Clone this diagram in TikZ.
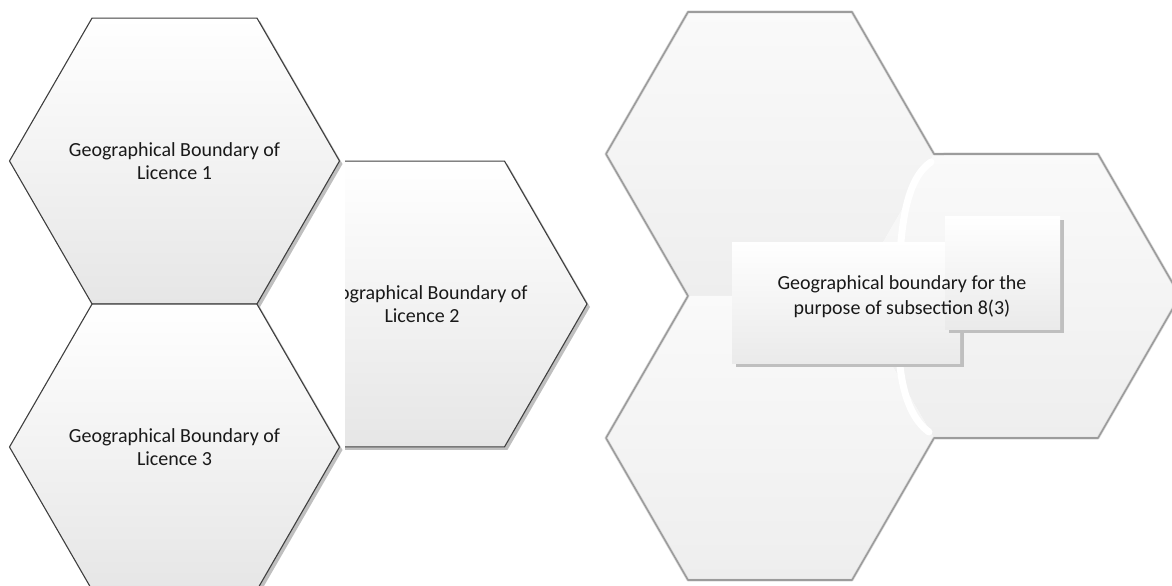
\documentclass[tikz,border=0pt]{standalone}
\usepackage{fontspec}
\setmainfont{Carlito}
\usetikzlibrary{shapes.geometric,shadows}
\definecolor{hexline}{HTML}{3F3F3F}
\definecolor{hexlow}{HTML}{E6E6E6}
\definecolor{zonerim}{HTML}{9C9C9C}
\definecolor{zonelow}{HTML}{EEEEEE}
\definecolor{panellow}{HTML}{EAEAEA}
\tikzset{
  hexcell/.style={regular polygon, regular polygon sides=6,
    minimum size=330pt, inner sep=0pt, outer sep=0pt, draw=hexline, line width=1.1pt,
    top color=white, bottom color=hexlow,
    drop shadow={shadow xshift=3pt, shadow yshift=-3pt, fill=black!25, opacity=1}},
  hexlabel/.style={align=center, text=black!90, font=\fontsize{20}{23}\selectfont},
  zonecell/.style={regular polygon, regular polygon sides=6,
    minimum size=328pt, inner sep=0pt, outer sep=0pt, top color=white!98!black, bottom color=zonelow},
  zonerimline/.style={draw=zonerim, line width=1.6pt, line join=round},
  panel/.style={rectangle, inner sep=0pt, outer sep=0pt, top color=white, bottom color=panellow,
    drop shadow={shadow xshift=4pt, shadow yshift=-4pt, fill=black!25, opacity=1}},
  caption/.style={align=center, text=black!90, font=\fontsize{20}{25}\selectfont}
}
\begin{document}
\begin{tikzpicture}[x=1pt,y=-1pt]
\useasboundingbox (0,0) rectangle (1172,586);
\clip (0,0) rectangle (1172,586);

% licences, left
\begin{scope}
  \clip (345,0) rectangle (600,586);
  \node[hexcell] (licTwo) at (422,304) {};
  \node[hexlabel] (licTwoText) at (licTwo.center) {Geographical Boundary of\\Licence 2};
\end{scope}
\node[hexcell] (licOne) at (174.5,161) {};
\node[hexlabel] (licOneText) at (licOne.center) {Geographical Boundary of\\Licence 1};
\node[hexcell] (licThree) at (174.5,447) {};
\node[hexlabel] (licThreeText) at (licThree.center) {Geographical Boundary of\\Licence 3};

% merged boundary, right
\node[zonecell] (zoneA) at (770,154) {};
\node[zonecell] (zoneB) at (1016,296) {};
\node[zonecell] (zoneC) at (770,438) {};
\draw[zonerimline, draw=black!12, line width=3pt, shift={(2,2)}]
  (zoneA.180) -- (zoneA.120) -- (zoneA.60) -- (zoneA.0)
  -- (zoneB.60) -- (zoneB.0) -- (zoneB.300) -- (zoneB.240)
  -- (zoneC.300) -- (zoneC.240) -- (zoneC.180) -- (zoneC.120) -- cycle;
\draw[zonerimline]
  (zoneA.180) -- (zoneA.120) -- (zoneA.60) -- (zoneA.0)
  -- (zoneB.60) -- (zoneB.0) -- (zoneB.300) -- (zoneB.240)
  -- (zoneC.300) -- (zoneC.240) -- (zoneC.180) -- (zoneC.120) -- cycle;
% white seam between the cells
\draw[white, line width=7pt, line cap=round]
  (931,162) .. controls (912,175) and (903,205) .. (900,255);
\draw[white, line width=7pt, line cap=round]
  (899,355) .. controls (902,400) and (915,422) .. (929,432);

% text boxes
\node[panel, minimum width=228pt, minimum height=121pt] (panelFront) at (846,302.5) {};
\node[panel, minimum width=115pt, minimum height=113pt] (panelBack) at (1002.5,272.5) {};
\node[caption] (purposeText) at (902,297) {Geographical boundary for the\\purpose of subsection 8(3)};
\end{tikzpicture}
\end{document}
